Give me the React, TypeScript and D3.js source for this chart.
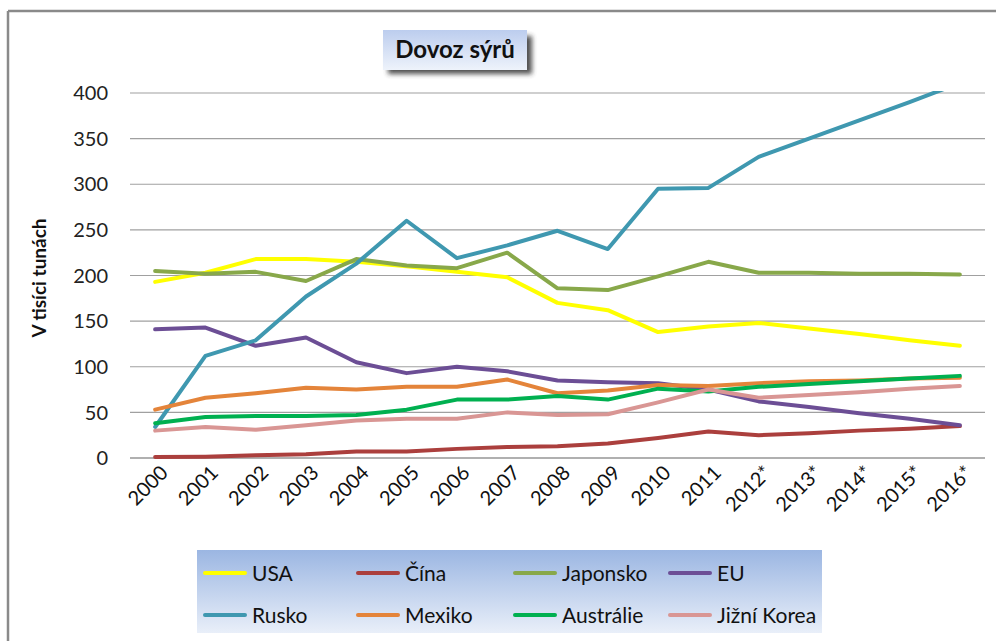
import React from "react";
import * as d3 from "d3";

const years = ["2000","2001","2002","2003","2004","2005","2006","2007","2008","2009","2010","2011","2012*","2013*","2014*","2015*","2016*"];
const yTicks = [0, 50, 100, 150, 200, 250, 300, 350, 400];

const usa = [193, 203, 218, 218, 215, 210, 204, 198, 170, 162, 138, 144, 148, 142, 136, 129, 123];
const cina = [1, 1.5, 3, 4, 7, 7, 10, 12, 13, 16, 22, 29, 25, 27, 30, 32, 35];
const japonsko = [205, 202, 204, 194, 218, 211, 208, 225, 186, 184, 199, 215, 203, 203, 202, 202, 201];
const eu = [141, 143, 123, 132, 105, 93, 100, 95, 85, 83, 82, 75, 62, 56, 49, 43, 36];
const rusko = [34, 112, 129, 177, 213, 260, 219, 233, 249, 229, 295, 296, 330, 350, 370, 390, 411];
const mexiko = [53, 66, 71, 77, 75, 78, 78, 86, 71, 74, 80, 79, 82, 84, 85, 87, 88];
const australie = [38, 45, 46, 46, 47, 53, 64, 64, 68, 64, 76, 73, 78, 81, 84, 87, 90];
const korea = [30, 34, 31, 36, 41, 43, 43, 50, 47, 48, 61, 75, 66, 69, 72, 76, 79];

const seriesNames = ["USA", "Čína", "Japonsko", "EU", "Rusko", "Mexiko", "Austrálie", "Jižní Korea"];
const seriesColors = ["#ffff00", "#ab3f3d", "#88a84a", "#6c4e95", "#3f98b0", "#e4843a", "#00b050", "#d99694"];
const seriesValues = [usa, cina, japonsko, eu, rusko, mexiko, australie, korea];

const FONT = "Lato, 'Open Sans', sans-serif";

export default function App() {
  const W = 996, H = 641;
  const left = 130, right = 985, top = 93, bottom = 458;
  const x = d3.scalePoint<string>().domain(years).range([left, right]).padding(0.5);
  const y = d3.scaleLinear().domain([0, 400]).range([bottom, top]);
  const line = d3.line<number>().x((_, i) => x(years[i]) as number).y((d) => y(d));

  const legendX = 197, legendY = 550, legendW = 625, legendH = 83;
  const colX = [205, 358, 515, 670];
  const rowY = [573, 615];

  return (
    <svg width={W} height={H} style={{ position: "absolute", left: 0, top: 0, background: "#fff" }} fontFamily={FONT}>
      <defs>
        <clipPath id="plotClip">
          <rect x={left} y={top - 2} width={right - left} height={bottom - top + 4} />
        </clipPath>
        <linearGradient id="legendGrad" x1="0" y1="0" x2="0" y2="1">
          <stop offset="0%" stopColor="#9bb6e2" />
          <stop offset="100%" stopColor="#e9eff9" />
        </linearGradient>
        <linearGradient id="titleGrad" x1="0" y1="0" x2="0" y2="1">
          <stop offset="0%" stopColor="#bccdee" />
          <stop offset="100%" stopColor="#eef3fb" />
        </linearGradient>
        <filter id="shadow" x="-20%" y="-20%" width="140%" height="160%">
          <feGaussianBlur stdDeviation="2.5" />
        </filter>
      </defs>

      {/* outer frame */}
      <line x1={8} y1={11} x2={W} y2={11} stroke="#8a8a8a" strokeWidth={2.5} />
      <line x1={8} y1={11} x2={8} y2={H} stroke="#8a8a8a" strokeWidth={2.5} />

      {/* gridlines */}
      {yTicks.map((t) => (
        <line key={t} x1={left} x2={right} y1={y(t)} y2={y(t)} stroke={t === 0 ? "#b0b0b0" : "#a0a0a0"} strokeWidth={t === 0 ? 2 : 1.2} />
      ))}

      {/* y tick labels */}
      {yTicks.map((t) => (
        <text key={"l" + t} x={108} y={y(t)} dy="0.36em" textAnchor="end" fontSize={20} fill="#222">{t}</text>
      ))}

      {/* y axis title */}
      <text transform={`translate(46, 278) rotate(-90)`} textAnchor="middle" fontSize={19} fontWeight="bold" fill="#111">V tisíci tunách</text>

      {/* x tick labels */}
      {years.map((yr) => (
        <text key={yr} transform={`translate(${(x(yr) as number) + 9}, ${469}) rotate(-45)`} textAnchor="end" dy="0.35em" fontSize={20} fill="#111">{yr}</text>
      ))}

      {/* series lines */}
      <g clipPath="url(#plotClip)">
        {seriesValues.map((vals, i) => (
          <path key={seriesNames[i]} d={line(vals) || ""} fill="none" stroke={seriesColors[i]} strokeWidth={4} strokeLinejoin="round" strokeLinecap="round" />
        ))}
      </g>

      {/* title */}
      <rect x={388} y={36} width={144} height={38} fill="#333" opacity={0.85} filter="url(#shadow)" />
      <rect x={383} y={30} width={144} height={40} fill="url(#titleGrad)" />
      <text x={455} y={58} textAnchor="middle" fontSize={24} fontWeight="bold" fill="#111">Dovoz sýrů</text>

      {/* legend */}
      <rect x={legendX} y={legendY} width={legendW} height={legendH} fill="url(#legendGrad)" />
      {seriesNames.map((name, i) => {
        const cx = colX[i % 4];
        const cy = rowY[Math.floor(i / 4)];
        return (
          <g key={"lg" + name}>
            <line x1={cx} x2={cx + 40} y1={cy} y2={cy} stroke={seriesColors[i]} strokeWidth={4} strokeLinecap="round" />
            <text x={cx + 47} y={cy} dy="0.36em" fontSize={21} fill="#111">{name}</text>
          </g>
        );
      })}
    </svg>
  );
}
